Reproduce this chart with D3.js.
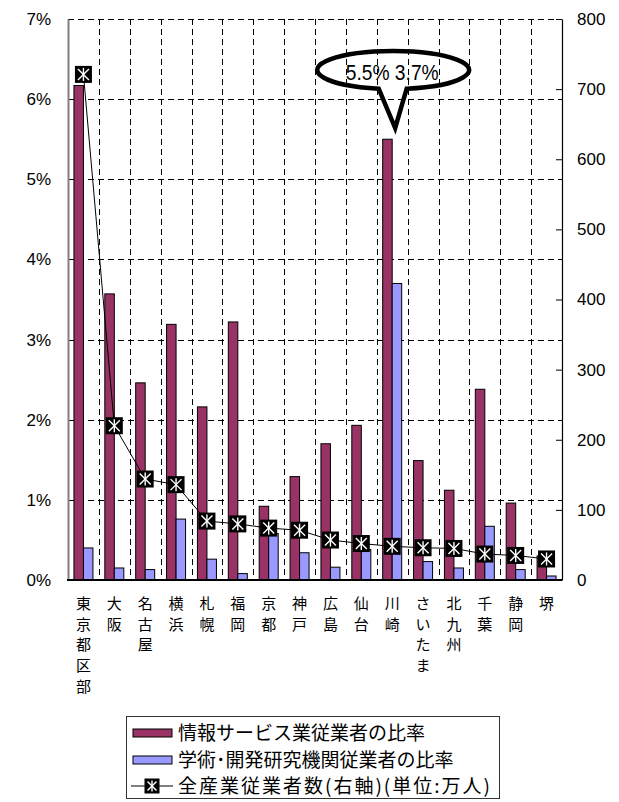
<!DOCTYPE html>
<html>
<head>
<meta charset="utf-8">
<script src="https://cdn.jsdelivr.net/npm/d3@7"></script>
<style>
  body { margin: 0; background: #fff; }
  svg { display: block; }
  text { font-family: "Liberation Sans", Arial, sans-serif; fill: #000; }
  .jp { font-family: "Noto Sans CJK JP", sans-serif; }
</style>
</head>
<body>
<svg id="chart" width="619" height="802"></svg>
<script>
// 政令指定都市など
const cities = ["東京都区部", "大阪", "名古屋", "横浜", "札幌", "福岡", "京都", "神戸",
  "広島", "仙台", "川崎", "さいたま", "北九州", "千葉", "静岡", "堺"];

// 情報サービス業従業者の比率 (%)
const infoShare = [6.17, 3.57, 2.46, 3.19, 2.16, 3.22, 0.92, 1.29,
  1.70, 1.93, 5.50, 1.49, 1.12, 2.38, 0.96, 0.30];

// 学術・開発研究機関従業者の比率 (%)
const researchShare = [0.40, 0.15, 0.13, 0.76, 0.26, 0.08, 0.58, 0.34,
  0.16, 0.38, 3.70, 0.23, 0.15, 0.67, 0.13, 0.05];

// 全産業従業者数 (万人, 右軸)
const workers = [721, 220, 144, 136, 84, 80, 74, 71,
  57, 52, 48, 46, 45, 37, 35, 30];

const leftTicks = [0, 1, 2, 3, 4, 5, 6, 7];
const rightTicks = [0, 100, 200, 300, 400, 500, 600, 700, 800];

const legendLabels = ["情報サービス業従業者の比率", "学術･開発研究機関従業者の比率", "全産業従業者数(右軸)(単位:万人)"];
const calloutText = "5.5% 3.7%";

const colInfo = "#993366";
const colResearch = "#9999ff";

const svg = d3.select("#chart");

const pLeft = 68, pRight = 562, pTop = 19, pBottom = 580;

const x = d3.scaleBand().domain(cities).range([pLeft, pRight]);
const bw = x.bandwidth();
const xSub = d3.scaleBand().domain(["info", "research"]).range([(bw - 19) / 2, (bw + 19) / 2]);
const yL = d3.scaleLinear().domain([0, 7]).range([pBottom, pTop]);
const yR = d3.scaleLinear().domain([0, 800]).range([pBottom, pTop]);

// grid
const grid = svg.append("g").attr("stroke", "#000").attr("stroke-width", 1)
  .attr("stroke-dasharray", "6,4");
grid.selectAll("line.h").data(leftTicks.filter(d => d > 0)).join("line")
  .attr("x1", pLeft).attr("x2", pRight)
  .attr("y1", d => Math.round(yL(d)) + 0.5).attr("y2", d => Math.round(yL(d)) + 0.5);
grid.selectAll("line.v").data(cities.slice(1)).join("line")
  .attr("x1", d => Math.round(x(d)) + 0.5).attr("x2", d => Math.round(x(d)) + 0.5)
  .attr("y1", pTop).attr("y2", pBottom);

// bars
const bars = svg.append("g").attr("stroke", "#000").attr("stroke-width", 1);
bars.selectAll("rect.info").data(cities).join("rect")
  .attr("class", "info")
  .attr("x", d => x(d) + xSub("info"))
  .attr("width", xSub.bandwidth())
  .attr("y", (d, i) => yL(infoShare[i]))
  .attr("height", (d, i) => pBottom - yL(infoShare[i]))
  .attr("fill", colInfo);
bars.selectAll("rect.res").data(cities).join("rect")
  .attr("class", "res")
  .attr("x", d => x(d) + xSub("research"))
  .attr("width", xSub.bandwidth())
  .attr("y", (d, i) => yL(researchShare[i]))
  .attr("height", (d, i) => pBottom - yL(researchShare[i]))
  .attr("fill", colResearch);

// axes
const axL = svg.append("g").attr("transform", `translate(${pLeft},0)`)
  .call(d3.axisLeft(yL).tickValues(leftTicks).tickSize(0).tickPadding(17).tickFormat(d => d + "%"));
axL.select(".domain").attr("stroke", "#808080").attr("stroke-width", 2);
axL.selectAll("text").attr("font-size", 17).attr("font-family", "Liberation Sans, Arial");

const axR = svg.append("g").attr("transform", `translate(${pRight},0)`)
  .call(d3.axisRight(yR).tickValues(rightTicks).tickSizeInner(-6).tickSizeOuter(0).tickPadding(15));
axR.select(".domain").attr("stroke", "#000").attr("stroke-width", 1.2);
axR.selectAll(".tick line").attr("stroke", "#000");
axR.selectAll(".tick text").attr("x", 15);
axR.selectAll("text").attr("font-size", 17).attr("font-family", "Liberation Sans, Arial");

svg.append("line").attr("x1", pLeft - 1).attr("x2", pRight).attr("y1", pBottom).attr("y2", pBottom)
  .attr("stroke", "#000").attr("stroke-width", 2);

// line + markers
const line = d3.line().x(d => x(d.c) + bw / 2).y(d => yR(d.v));
const pts = cities.map((c, i) => ({ c, v: workers[i] }));
svg.append("path").datum(pts).attr("d", line)
  .attr("fill", "none").attr("stroke", "#000").attr("stroke-width", 1);

function marker(g, s) {
  g.append("rect").attr("x", -s / 2).attr("y", -s / 2).attr("width", s).attr("height", s).attr("fill", "#000");
  const r = s / 2 - 3;
  const w = g.append("g").attr("stroke", "#fff").attr("stroke-width", 1.4);
  w.append("line").attr("x1", -r).attr("y1", -r).attr("x2", r).attr("y2", r);
  w.append("line").attr("x1", -r).attr("y1", r).attr("x2", r).attr("y2", -r);
  w.append("line").attr("x1", 0).attr("y1", -r - 1).attr("x2", 0).attr("y2", r + 1);
}
svg.append("g").selectAll("g").data(pts).join("g")
  .attr("transform", d => `translate(${x(d.c) + bw / 2},${yR(d.v)})`)
  .each(function () { marker(d3.select(this), 17); });

// x labels (vertical)
svg.append("g").selectAll("text").data(cities).join("text")
  .attr("class", "jp")
  .attr("font-size", 15)
  .attr("text-anchor", "middle")
  .attr("x", d => x(d) + bw / 2)
  .attr("y", 609)
  .each(function (d) {
    const t = d3.select(this);
    Array.from(d).forEach((ch, k) => {
      t.append("tspan").attr("x", x(d) + bw / 2).attr("dy", k === 0 ? 0 : 20.7).text(ch);
    });
  });

// callout bubble over 川崎
const kx = x("川崎") + bw / 2;
const cx = kx + 1, cy = 70, rx = 76, ry = 19;
const bx1 = cx - 14.5, bx2 = cx + 13.5;
const by = t => cy + ry * Math.sqrt(1 - Math.pow((t - cx) / rx, 2));
svg.append("path")
  .attr("d", `M${bx1},${by(bx1)} A${rx} ${ry} 0 1 1 ${bx2},${by(bx2)} L${kx + 3},128 Z`)
  .attr("fill", "none").attr("stroke", "#000").attr("stroke-width", 4.5)
  .attr("stroke-linejoin", "miter");
svg.append("text").attr("x", cx - 1).attr("y", 80).attr("text-anchor", "middle")
  .attr("font-size", 22).attr("textLength", 93).attr("lengthAdjust", "spacingAndGlyphs")
  .text(calloutText);

// legend
const lg = svg.append("g");
lg.append("rect").attr("x", 126.5).attr("y", 716.5).attr("width", 373).attr("height", 82)
  .attr("fill", "#fff").attr("stroke", "#333").attr("stroke-width", 1);
const rowY = [733, 760, 786];
[colInfo, colResearch].forEach((c, i) => {
  lg.append("rect").attr("x", 133).attr("y", rowY[i] - 4).attr("width", 39).attr("height", 8)
    .attr("fill", c).attr("stroke", "#000").attr("stroke-width", 1);
});
lg.append("line").attr("x1", 131).attr("x2", 173).attr("y1", rowY[2]).attr("y2", rowY[2])
  .attr("stroke", "#000").attr("stroke-width", 1);
const lm = lg.append("g").attr("transform", `translate(152,${rowY[2]})`);
marker(lm, 15);
lg.selectAll("text.lab").data(legendLabels).join("text")
  .attr("class", "jp lab").attr("font-size", 19)
  .attr("x", 178).attr("y", (d, i) => rowY[i] + 7)
  .attr("textLength", (d, i) => i === 2 ? 312 : null)
  .attr("lengthAdjust", "spacing")
  .text(d => d);
</script>
</body>
</html>
